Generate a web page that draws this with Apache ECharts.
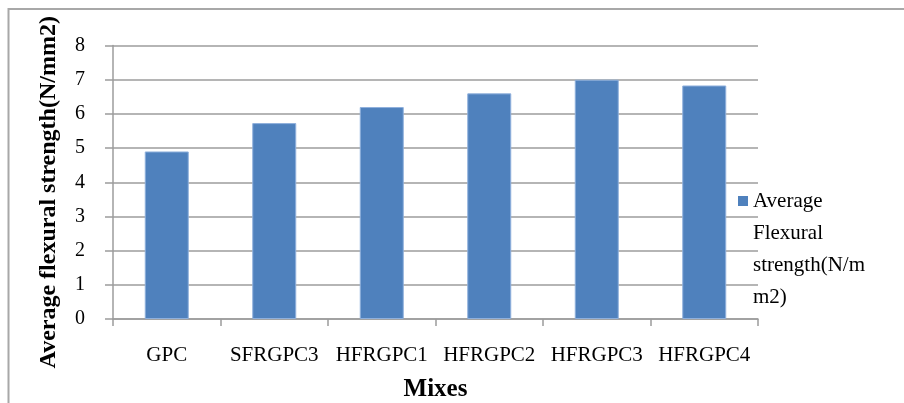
<!DOCTYPE html>
<html>
<head>
<meta charset="utf-8">
<script src="https://cdn.jsdelivr.net/npm/echarts@6/dist/echarts.min.js"></script>
<style>
html,body{margin:0;padding:0;background:#fff;}
#chart{width:904px;height:403px;}
</style>
</head>
<body>
<div id="chart"></div>
<script>
var categories = ['GPC', 'SFRGPC3', 'HFRGPC1', 'HFRGPC2', 'HFRGPC3', 'HFRGPC4'];
var flexuralValues = [4.9, 5.73, 6.2, 6.6, 7.0, 6.83];
var seriesName = 'Average Flexural strength(N/mm2)';
var legendLines = ['Average', 'Flexural', 'strength(N/m', 'm2)'];
var yTicks = {min: 0, max: 8, interval: 1};
var xTitle = 'Mixes';
var yTitle = 'Average flexural strength(N/mm2)';

var serif = '"Liberation Serif", "Times New Roman", serif';
var gridGray = '#9c9c9c';

// blank lines above so the first text line sits beside the legend marker
var legendText = '\n\n\n' + legendLines.join('\n');

var chart = echarts.init(document.getElementById('chart'), null, {renderer: 'canvas'});
chart.setOption({
  animation: false,
  backgroundColor: '#fff',
  graphic: [{
    type: 'rect',
    shape: {x: 8.5, y: 9, width: 1000, height: 500},
    style: {fill: 'none', stroke: '#a8a8a8', lineWidth: 2},
    silent: true,
    z: -10
  }],
  grid: {left: 113, right: 146, top: 45.5, bottom: 84, containLabel: false, outerBoundsMode: 'none'},
  legend: {
    show: true,
    orient: 'vertical',
    left: 738,
    top: 89,
    padding: 0,
    itemWidth: 10,
    itemHeight: 10,
    icon: 'rect',
    itemStyle: {borderWidth: 0},
    formatter: function () { return legendText; },
    textStyle: {fontFamily: serif, fontSize: 21, color: '#000', lineHeight: 32},
    data: [seriesName]
  },
  xAxis: {
    type: 'category',
    data: categories,
    boundaryGap: true,
    name: xTitle,
    nameLocation: 'middle',
    nameGap: 58,
    nameTextStyle: {fontFamily: serif, fontSize: 25, fontWeight: 'bold', color: '#000'},
    axisLine: {show: true, lineStyle: {color: gridGray, width: 1.5}},
    axisTick: {show: true, length: 7, alignWithLabel: false, lineStyle: {color: gridGray, width: 1.5}},
    axisLabel: {fontFamily: serif, fontSize: 21, color: '#000', margin: 26, interval: 0}
  },
  yAxis: {
    type: 'value',
    min: yTicks.min,
    max: yTicks.max,
    interval: yTicks.interval,
    name: yTitle,
    nameLocation: 'middle',
    nameGap: 52,
    nameTextStyle: {fontFamily: serif, fontSize: 24, fontWeight: 'bold', color: '#000', padding: [0, 20, 0, 0]},
    axisLine: {show: true, lineStyle: {color: gridGray, width: 1.5}},
    axisTick: {show: true, inside: false, length: 8, lineStyle: {color: gridGray, width: 1.5}},
    splitLine: {show: true, lineStyle: {color: gridGray, width: 1.5}},
    axisLabel: {fontFamily: serif, fontSize: 20, color: '#000', margin: 28}
  },
  series: [{
    name: seriesName,
    type: 'bar',
    data: flexuralValues,
    barWidth: 44,
    itemStyle: {color: '#4f81bd', borderColor: '#8fb0dc', borderWidth: 1}
  }]
});
</script>
</body>
</html>
